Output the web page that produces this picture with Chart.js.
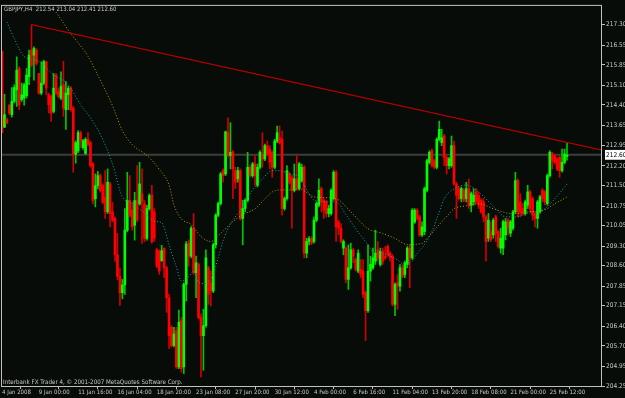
<!DOCTYPE html>
<html>
<head>
<meta charset="utf-8">
<script src="https://cdn.jsdelivr.net/npm/chart.js@4.4.1/dist/chart.umd.min.js"></script>
<style>
  html, body { margin: 0; padding: 0; background: #080c08; }
  #wrap { width: 625px; height: 398px; }
</style>
</head>
<body>
<div id="wrap"><canvas id="chart" width="625" height="398"></canvas></div>
<script>
// GBPJPY H4 candles (bar 0 = 4 Jan 2008)
const OPEN = [216.34,213.60,213.87,214.39,214.05,214.53,214.95,215.72,214.59,214.65,214.74,215.42,216.38,216.20,216.38,215.54,214.83,215.19,215.96,214.77,
  214.71,214.17,215.48,214.89,214.65,215.13,214.23,214.77,215.01,214.29,212.62,212.74,213.40,212.86,212.65,213.16,213.04,212.27,211.01,211.49,
  211.85,211.49,211.07,210.54,211.55,210.54,210.30,208.99,208.21,207.62,207.90,209.88,210.95,210.60,210.06,210.95,210.83,211.19,210.83,209.58,
  210.66,211.14,210.54,209.17,209.11,208.78,209.23,208.52,207.44,206.37,205.71,206.25,204.94,206.61,204.94,207.92,209.41,208.94,209.95,208.34,
  208.64,206.73,206.07,206.43,208.52,207.98,207.68,209.35,210.42,210.84,212.03,211.91,213.40,212.57,212.71,212.03,211.73,212.03,210.30,210.66,
  210.96,212.15,211.85,212.27,211.50,212.15,212.63,212.45,212.93,212.81,212.69,212.15,213.10,213.22,213.16,210.66,211.02,211.91,211.79,211.32,
  211.73,211.38,211.67,212.15,209.05,209.47,209.57,209.47,210.24,210.78,211.38,210.96,210.90,210.48,210.48,211.02,211.97,210.18,209.95,209.23,
  209.23,208.10,208.52,209.17,208.82,208.40,208.46,208.40,207.62,206.97,208.40,208.52,208.76,209.17,208.64,209.11,208.94,209.29,209.05,208.94,
  207.20,207.98,207.86,208.52,208.28,208.64,209.23,208.88,210.18,210.60,210.36,209.71,209.83,211.32,212.33,212.75,212.39,212.15,213.16,213.04,
  213.28,212.51,212.21,212.21,212.93,211.55,211.38,211.02,211.32,211.02,211.38,210.78,210.90,211.26,211.14,210.96,210.90,210.36,209.59,209.83,
  209.71,210.36,209.83,209.23,209.23,209.71,210.24,209.77,209.95,210.54,211.67,210.90,210.66,210.48,210.78,211.26,211.02,210.48,210.30,210.54,
  211.32,211.26,210.84,211.85,212.63,212.57,212.45,212.51,212.03,212.33,212.54];
const HIGH = [216.34,214.79,213.93,214.43,215.03,215.13,216.14,215.78,215.19,215.19,215.72,216.38,217.30,216.50,216.44,215.54,215.96,216.02,215.98,214.83,
  214.77,215.54,215.54,215.01,215.60,215.98,215.25,215.07,215.07,214.35,213.10,213.48,213.46,213.16,213.22,213.40,213.10,212.33,211.91,212.00,
  211.91,211.55,212.03,212.09,211.61,210.89,210.36,209.76,208.51,208.10,210.66,211.97,211.85,210.89,211.25,212.21,212.33,212.09,210.95,210.78,
  211.19,211.50,210.66,209.23,209.17,209.33,209.23,208.58,207.56,206.43,206.37,206.37,206.99,206.73,207.98,209.47,209.53,210.01,210.48,208.94,
  208.70,206.85,207.02,209.17,208.58,208.40,209.41,210.48,210.90,211.97,212.09,213.46,213.94,213.76,212.75,212.15,212.15,212.09,210.96,211.02,
  212.69,212.21,212.33,212.57,212.27,212.75,213.40,212.99,213.10,212.93,212.75,213.16,213.64,213.64,213.46,211.08,212.21,211.97,211.85,212.27,
  212.57,212.33,212.27,212.21,209.59,209.65,209.65,210.36,210.90,211.73,211.44,211.02,210.96,210.78,211.38,212.03,212.03,210.24,210.12,209.53,
  209.29,209.35,209.41,209.23,208.88,209.17,208.82,208.82,207.68,209.35,208.94,209.23,209.88,209.47,209.23,209.23,209.29,209.35,209.11,209.00,
  207.98,208.28,208.64,208.64,208.76,209.29,209.35,210.66,210.66,210.66,210.42,210.18,211.44,212.45,212.75,212.81,212.45,213.22,213.82,213.52,
  213.34,212.57,212.51,213.28,213.10,211.61,211.44,211.44,211.38,211.61,211.73,211.26,211.38,211.38,211.26,211.02,211.02,210.42,210.48,210.18,
  210.30,210.42,209.88,209.95,210.24,210.30,210.30,210.24,210.60,211.97,211.73,211.20,210.84,210.96,211.50,211.32,211.08,210.54,210.96,211.14,
  211.38,211.32,211.91,212.75,212.69,212.63,212.51,212.57,212.81,212.81,213.04];
const LOW = [213.40,213.58,213.72,214.05,213.96,214.47,214.35,214.23,214.53,214.39,214.65,215.13,215.78,215.30,215.84,214.79,214.77,215.13,214.77,214.11,
  213.81,214.11,214.77,214.65,214.59,213.99,213.52,214.23,214.17,211.97,212.30,212.68,212.86,212.80,212.62,212.92,212.15,210.83,210.72,211.37,
  211.25,210.83,210.30,210.48,210.00,210.18,208.75,208.09,207.16,207.40,207.56,209.82,210.36,209.88,209.52,210.18,210.78,209.40,209.46,209.52,
  210.60,209.41,209.47,208.52,208.28,208.75,208.16,206.91,205.60,205.66,205.66,204.88,204.88,204.76,204.70,207.32,208.58,208.88,208.28,207.44,
  206.67,204.58,204.82,206.37,207.20,207.14,207.62,209.23,210.36,210.78,211.61,211.85,212.51,212.09,211.02,211.38,211.61,210.24,209.35,210.54,
  210.90,211.79,211.79,211.50,211.44,212.09,212.15,212.39,212.57,212.09,211.79,212.09,213.04,212.99,210.42,210.60,210.96,211.55,209.95,211.26,
  211.32,211.32,211.61,208.88,208.88,209.35,209.35,209.41,210.18,210.72,210.54,210.30,210.36,210.36,210.42,210.96,209.47,209.71,209.41,208.99,
  207.98,207.74,208.46,208.70,208.40,208.34,208.16,207.44,205.89,206.91,208.04,208.46,208.64,208.76,208.58,208.64,208.82,208.94,208.76,207.14,
  206.79,207.02,207.68,208.16,208.16,208.52,207.80,208.82,210.12,210.24,209.65,209.65,209.71,211.26,212.27,212.15,212.09,212.09,213.10,212.93,
  212.21,211.91,212.09,212.15,211.50,210.30,210.96,210.90,210.90,210.90,210.66,210.54,210.78,210.84,210.66,210.48,210.18,208.76,209.47,209.47,
  209.59,209.47,209.23,209.05,208.99,209.53,209.71,209.65,209.88,210.48,210.36,210.36,210.42,210.42,210.66,210.54,210.24,210.00,209.95,210.48,
  210.90,210.78,210.78,211.79,212.09,212.27,212.03,211.79,211.97,212.27,212.41];
const CLOSE = [213.40,214.05,213.75,214.11,214.53,215.03,215.66,214.41,214.77,215.13,215.48,216.20,215.84,216.44,215.90,214.83,215.19,215.96,215.01,214.41,
  214.11,215.01,214.83,214.71,215.07,214.29,214.83,215.01,214.23,212.62,213.04,213.40,213.10,213.10,213.16,212.98,212.21,210.95,211.49,211.85,
  211.31,210.89,210.54,211.61,210.48,210.24,208.99,208.21,207.62,207.90,209.88,210.95,210.42,210.00,210.95,210.24,211.55,210.89,209.58,210.66,
  211.13,209.47,209.59,208.58,208.40,209.14,208.52,207.44,206.07,205.71,206.13,204.94,206.55,204.88,207.92,209.38,208.94,209.95,208.34,208.70,
  206.73,206.07,206.43,208.88,207.56,207.68,209.35,210.42,210.84,211.91,211.85,213.43,212.57,212.69,212.09,211.61,212.03,210.30,210.66,210.96,
  212.15,211.85,212.27,211.85,212.15,212.69,212.45,212.93,212.63,212.33,212.15,213.10,213.40,213.04,210.66,211.02,212.03,211.61,211.32,211.73,
  211.38,212.27,212.15,209.05,209.47,209.57,209.41,210.24,210.84,211.32,210.90,210.60,210.48,210.66,211.32,211.97,210.00,209.95,209.47,209.47,
  208.10,208.52,209.17,208.94,208.46,209.05,208.28,207.56,206.97,208.40,208.64,208.88,209.05,208.88,209.11,208.76,208.88,208.99,208.88,207.20,
  207.92,207.86,208.52,208.22,208.70,209.23,208.88,210.60,210.60,210.30,209.71,210.00,211.38,212.39,212.69,212.21,212.15,213.16,213.52,213.22,
  212.51,212.21,212.45,212.93,211.55,211.14,211.02,211.38,210.96,211.38,210.78,211.20,211.14,210.90,210.78,210.54,210.36,209.47,210.24,209.53,
  210.24,209.77,209.29,209.59,210.18,210.18,209.95,210.18,210.54,211.67,210.54,210.54,210.48,210.90,211.26,210.66,210.42,210.30,210.90,211.08,
  211.02,210.90,211.85,212.69,212.39,212.33,212.09,212.03,212.33,212.63,212.60];

// dotted moving averages (bar index, price)
const MA_FAST_BARS = [2,5,9,14,21,27,32,36,40,43,45,49,52,58,62,65,68,71,73,76,78,80,83,86,88,90,93,97,102,106,110,113,117,121,123,127,132,136,140,144,148,152,156,160,164,167,169,172,175,178,180,184,189,193,197,201,205,209,213,217,221,225,230];
const MA_FAST = [217.40,216.80,216.15,216.02,215.49,215.13,214.41,213.94,213.34,212.75,212.27,211.08,210.90,210.50,210.20,210.15,209.35,208.55,208.04,208.20,208.40,208.00,207.95,208.30,208.87,209.50,210.10,210.60,211.33,211.73,212.03,212.03,211.91,211.79,211.51,210.97,210.90,210.90,210.44,209.93,209.47,209.04,209.01,208.86,208.65,208.76,209.04,209.36,209.83,210.54,211.01,211.37,211.51,211.33,211.01,210.65,210.36,210.36,210.47,210.54,210.65,211.01,211.54];
const MA_SLOW_BARS = [22,28,35,40,45,49,53,59,64,68,70,73,77,81,85,89,94,98,103,107,110,113,118,121,127,136,142,149,155,160,165,171,173,178,182,184,189,194,201,208,214,221,225,230];
const MA_SLOW = [217.75,216.98,216.16,215.30,214.37,213.47,212.97,212.58,212.08,211.51,210.79,210.29,210.08,209.65,209.47,209.76,210.19,210.44,210.65,211.01,211.26,211.33,211.33,211.37,211.08,211.01,210.54,209.93,209.76,209.58,209.36,209.40,209.58,210.08,210.47,210.65,210.76,210.83,210.62,210.47,210.54,210.62,210.83,211.08];

// trend line from the 8 Jan high, and the current bid
const TREND_BARS = [12, 244.25];
const TREND = [217.30, 212.77];
const BID = 212.60;

const X_TICK_BARS = [0,15,31,47,63,79,95,111,127,143,159,175,191,207,223];
const X_TICK_LABELS = ['4 Jan 2008','9 Jan 00:00','11 Jan 16:00','16 Jan 04:00','18 Jan 20:00','23 Jan 08:00','27 Jan 20:00','30 Jan 12:00',
  '4 Feb 00:00','6 Feb 16:00','11 Feb 04:00','13 Feb 20:00','18 Feb 08:00','21 Feb 00:00','25 Feb 12:00'];
const Y_TICK_LABELS = ['217.30','216.55','215.85','215.10','214.40','213.65','212.95','212.20','211.50','210.75','210.05','209.30',
  '208.60','207.85','207.15','206.40','205.70','204.95','204.25'];

const FONT = '"Liberation Sans Narrow", "DejaVu Sans Condensed", "Liberation Sans", sans-serif';
const TEXT = '#c8c8c8';
const BULL = '#00ff00', BEAR = '#ff0000';

const idx = OPEN.map((_, i) => i);
const bodyColors = idx.map(i => CLOSE[i] >= OPEN[i] ? BULL : BEAR);
const wickColors = idx.map(i => CLOSE[i] >= OPEN[i] ? '#00c800' : '#d00000');

const overlay = {
  id: 'overlay',
  afterDraw(chart) {
    const { ctx, chartArea: a } = chart;
    ctx.save();
    ctx.strokeStyle = '#c0c0c0';
    ctx.lineWidth = 1;
    ctx.strokeRect(a.left + 0.5, a.top + 0.5, a.right - a.left - 1, a.bottom - a.top - 1);
    ctx.fillStyle = TEXT;
    ctx.textBaseline = 'middle';
    ctx.font = '6px ' + FONT;
    ctx.fillText('GBPJPY,H4  212.54 213.04 212.41 212.60', a.left + 3, a.top + 5);
    ctx.font = '6.2px ' + FONT;
    ctx.fillText('Interbank FX Trader 4, \u00a9 2001-2007 MetaQuotes Software Corp.', a.left + 2, a.bottom - 5);
    ctx.restore();
  }
};

new Chart(document.getElementById('chart'), {
  type: 'bar',
  data: {
    datasets: [
      {
        type: 'line', data: [{ x: -5, y: BID }, { x: 250, y: BID }],
        borderColor: '#3c3c3c', borderWidth: 2, pointRadius: 0, order: 10
      },
      {
        data: idx.map(i => ({ x: i, y: [LOW[i], HIGH[i]] })),
        backgroundColor: wickColors, barThickness: 1, grouped: false, minBarLength: 1, order: 6
      },
      {
        data: idx.map(i => ({ x: i, y: [OPEN[i], CLOSE[i]] })),
        backgroundColor: bodyColors, barThickness: 2, grouped: false, minBarLength: 1, order: 5
      },
      {
        type: 'line', data: MA_SLOW_BARS.map((b, i) => ({ x: b, y: MA_SLOW[i] })),
        borderColor: '#b4a000', borderWidth: 1, borderDash: [1, 2], pointRadius: 0,
        cubicInterpolationMode: 'monotone', order: 3
      },
      {
        type: 'line', data: MA_FAST_BARS.map((b, i) => ({ x: b, y: MA_FAST[i] })),
        borderColor: '#10a8b0', borderWidth: 1, borderDash: [1, 2], pointRadius: 0,
        cubicInterpolationMode: 'monotone', order: 2
      },
      {
        type: 'line', data: TREND_BARS.map((b, i) => ({ x: b, y: TREND[i] })),
        borderColor: '#b00000', borderWidth: 1.2, pointRadius: 0, order: 1
      }
    ]
  },
  options: {
    responsive: false,
    animation: false,
    devicePixelRatio: 1,
    layout: { padding: { top: 1, left: 1, right: 0, bottom: 0 } },
    plugins: { legend: { display: false }, tooltip: { enabled: false } },
    scales: {
      x: {
        type: 'linear', offset: false, min: -0.41, max: 244.25,
        afterFit: s => { s.height = 11; },
        afterBuildTicks: s => { s.ticks = X_TICK_BARS.map(v => ({ value: v })); },
        border: { display: false },
        grid: { drawOnChartArea: false, drawTicks: true, tickLength: 2, tickColor: '#c0c0c0' },
        ticks: {
          autoSkip: false, maxRotation: 0, minRotation: 0, align: 'start', padding: 0,
          color: TEXT, font: { family: FONT, size: 6 },
          callback: (v, i) => X_TICK_LABELS[i]
        }
      },
      y: {
        type: 'linear', position: 'right', min: 204.215, max: 218.015,
        afterFit: s => { s.width = 23; },
        afterBuildTicks: s => {
          s.ticks = Y_TICK_LABELS.map(l => ({ value: parseFloat(l) })).concat([{ value: BID }]);
        },
        border: { display: false },
        grid: {
          drawOnChartArea: false, drawTicks: true, tickLength: 3,
          tickColor: c => c.tick && c.tick.value === BID ? 'rgba(0,0,0,0)' : '#c0c0c0'
        },
        ticks: {
          autoSkip: false, padding: 1, color: c => c.tick && c.tick.value === BID ? '#000' : TEXT,
          font: { family: FONT, size: 6.5 },
          showLabelBackdrop: c => !!(c.tick && c.tick.value === BID),
          backdropColor: '#ffffff', backdropPadding: { x: 1, y: 1 },
          callback: (v, i) => i < Y_TICK_LABELS.length ? Y_TICK_LABELS[i] : BID.toFixed(2)
        }
      }
    }
  },
  plugins: [overlay]
});
</script>
</body>
</html>
